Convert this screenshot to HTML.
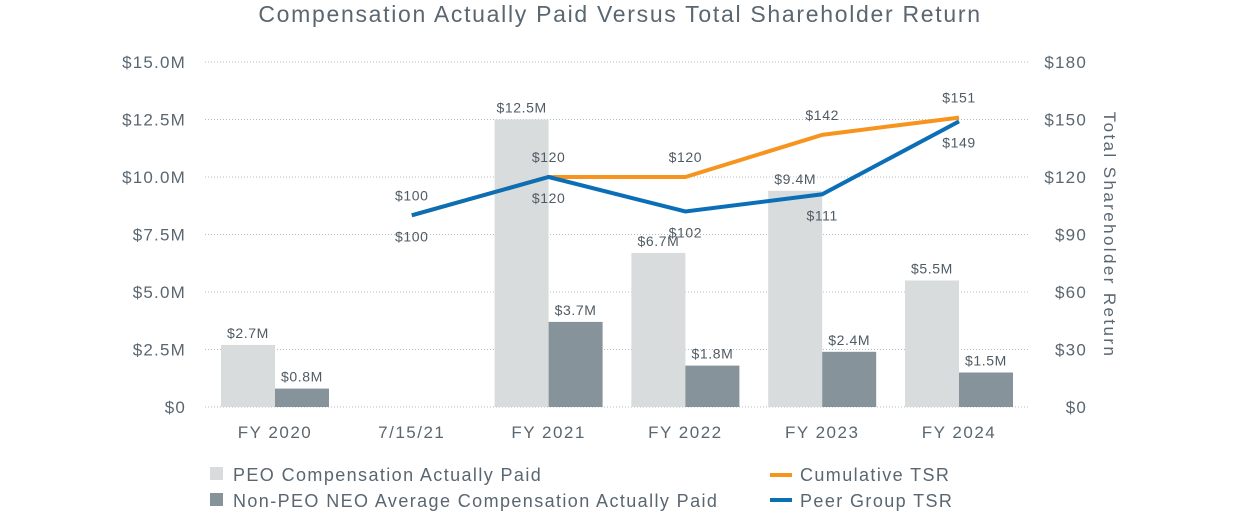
<!DOCTYPE html>
<html><head><meta charset="utf-8">
<style>
body{margin:0;background:#fff;}
svg{display:block;font-family:"Liberation Sans",sans-serif;}
</style></head>
<body>
<svg id="c" width="1239" height="513">
<text x="620" y="22" text-anchor="middle" font-size="23" letter-spacing="1.7" fill="#5a6670">Compensation Actually Paid Versus Total Shareholder Return</text>
<g id="grid"></g><g id="bars"></g><g id="lines"></g><g id="labels"></g>
<text transform="translate(1104,235) rotate(90)" text-anchor="middle" font-size="17" letter-spacing="2.4" fill="#5a6670">Total Shareholder Return</text>
<g font-size="18" letter-spacing="1.4" fill="#5a6670">
<rect x="210" y="467" width="13" height="13" fill="#d9dcdd"/>
<text x="233" y="481">PEO Compensation Actually Paid</text>
<rect x="210" y="493" width="13" height="13" fill="#86939b"/>
<text x="233" y="507">Non-PEO NEO Average Compensation Actually Paid</text>
<rect x="770" y="473" width="22" height="4" fill="#f7941d"/>
<text x="800" y="481">Cumulative TSR</text>
<rect x="770" y="498" width="22" height="4" fill="#0a6fb7"/>
<text x="800" y="507">Peer Group TSR</text>
</g>
</svg>
<script>
const categories=["FY 2020","7/15/21","FY 2021","FY 2022","FY 2023","FY 2024"];
const peoValues=[2.7,null,12.5,6.7,9.4,5.5];
const neoValues=[0.8,null,3.7,1.8,2.4,1.5];
const cumTSR=[null,100,120,120,142,151];
const peerTSR=[null,100,120,102,111,149];
const leftTicks=[0,2.5,5,7.5,10,12.5,15];
const leftTickLabels=["$0","$2.5M","$5.0M","$7.5M","$10.0M","$12.5M","$15.0M"];
const rightTicks=[0,30,60,90,120,150,180];
const NS="http://www.w3.org/2000/svg";
const y0=407,y1=62,xL=205,xR=1030;
const yL=v=>y0-(v/15)*(y0-y1);
const yR=v=>y0-(v/180)*(y0-y1);
const xC=i=>275+i*136.8;
function mk(tag,attrs,parent,txt){const e=document.createElementNS(NS,tag);for(const k in attrs)e.setAttribute(k,attrs[k]);if(txt!==undefined)e.textContent=txt;document.getElementById(parent).appendChild(e);return e;}
leftTicks.forEach((t,i)=>{
 const l=mk('line',{x1:xL,x2:xR,y1:yL(t),y2:yL(t),stroke:'#b5bcc1','stroke-dasharray':'1,2'},'grid');
 
 
 const a=mk('text',{x:186,y:yL(t)+6,'text-anchor':'end','font-size':17,'letter-spacing':1.2,fill:'#5a6670'},'grid',leftTickLabels[i]);
 
 
});
rightTicks.forEach(t=>{
 const a=mk('text',{x:1087,y:yR(t)+6,'text-anchor':'end','font-size':17,'letter-spacing':1.2,fill:'#5a6670'},'grid','$'+t);
 
 
});
categories.forEach((c,i)=>{
 const a=mk('text',{x:xC(i),y:438,'text-anchor':'middle','font-size':17,'letter-spacing':1.5,fill:'#5a6670'},'grid',c);
 
 
 if(peoValues[i]!=null){
  const b=mk('rect',{x:xC(i)-54,y:yL(peoValues[i]),width:54,height:y0-yL(peoValues[i]),fill:'#d9dcdd'},'bars');
  
  
  const t=mk('text',{x:xC(i)-27,y:yL(peoValues[i])-7,'text-anchor':'middle','font-size':14,'letter-spacing':0.6,fill:'#4f5b64'},'labels','$'+peoValues[i]+'M');
  
  
 }
 if(neoValues[i]!=null){
  const b=mk('rect',{x:xC(i),y:yL(neoValues[i]),width:54,height:y0-yL(neoValues[i]),fill:'#86939b'},'bars');
  
  
  const t=mk('text',{x:xC(i)+27,y:yL(neoValues[i])-7,'text-anchor':'middle','font-size':14,'letter-spacing':0.6,fill:'#4f5b64'},'labels','$'+neoValues[i]+'M');
  
  
 }
});
function line(data,color,name,dy){
 const pts=[];data.forEach((v,i)=>{if(v!=null)pts.push(xC(i)+','+yR(v));});
 const p=mk('polyline',{points:pts.join(' '),fill:'none',stroke:color,'stroke-width':4},'lines');
 
 
 data.forEach((v,i)=>{if(v==null)return;
  const t=mk('text',{x:xC(i),y:yR(v)+dy,'text-anchor':'middle','font-size':14,'letter-spacing':0.6,fill:'#4f5b64'},'labels','$'+v);
  
  
 });
}
line(cumTSR,'#f7941d','cumulative-tsr-line',-15);
line(peerTSR,'#0a6fb7','peer-tsr-line',26);
</script>
</body></html>
